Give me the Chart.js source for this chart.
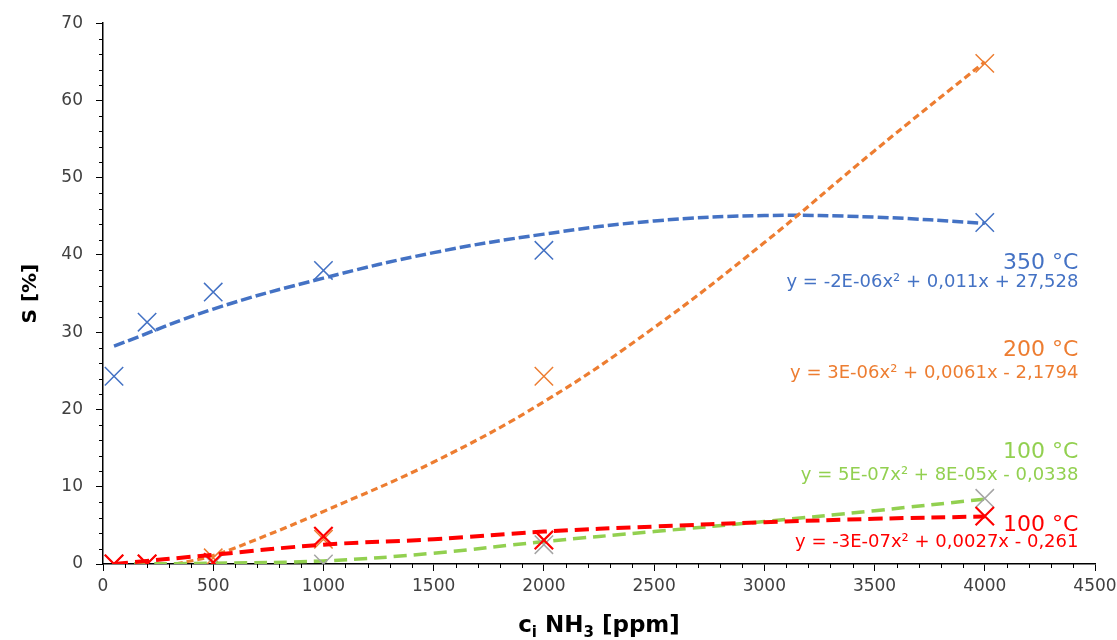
<!DOCTYPE html>
<html>
<head>
<meta charset="utf-8">
<script src="https://cdn.jsdelivr.net/npm/chart.js@4.4.1/dist/chart.umd.min.js"></script>
<style>
  html, body { margin: 0; padding: 0; background: #fff; }
  #wrap { width: 1117px; height: 640px; }
</style>
</head>
<body>
<div id="wrap"><canvas id="selChart"></canvas></div>
<script>
// measured points, NH3 inlet concentration [ppm] vs selectivity S [%]
const concentrations = [50, 200, 500, 1000, 2000, 4000];
const sel350 = [24.3, 31.3, 35.2, 38.0, 40.6, 44.2];
const sel200 = [0, 0, 0.8, 3.2, 24.3, 64.8];
const sel100green = [0, 0, 0, 0, 2.5, 8.5];
const sel100red = [0, 0, 0.2, 3.6, 3.1, 6.2];

// polynomial trendlines, sampled along x
const trendX = [50, 500, 1000, 1500, 2000, 2500, 3000, 3500, 4000];
const trend350 = [28.2, 33.0, 37.0, 40.3, 42.7, 44.4, 45.1, 44.9, 44.1];
const trendX200 = [330, 500, 750, 1000, 1500, 2000, 2500, 3000, 3500, 4000];
const trend200 = [0, 1.1, 3.8, 6.8, 13.2, 21.0, 30.6, 41.6, 53.5, 65.0];
const trend100green = [0, 0.1, 0.4, 1.4, 2.9, 4.2, 5.5, 6.9, 8.4];
const trend100red = [0, 1.2, 2.5, 3.2, 4.2, 4.85, 5.4, 5.85, 6.15];

// axis ticks
const xTicks = [0, 500, 1000, 1500, 2000, 2500, 3000, 3500, 4000, 4500];
const yTicks = [0, 10, 20, 30, 40, 50, 60, 70];

const BLUE = "#4472C4", ORANGE = "#ED7D31", GREEN = "#92D050", GRAY = "#A5A5A5", RED = "#FF0000";
const FONT = '"DejaVu Sans", "Liberation Sans", sans-serif';

// series names and trendline equations shown at the right edge
const seriesLabels = [
  { text: "350 °C", y: 38.9, size: 22, color: BLUE },
  { text: "y = -2E-06x² + 0,011x + 27,528", y: 36.4, size: 18, color: BLUE },
  { text: "200 °C", y: 27.7, size: 22, color: ORANGE },
  { text: "y = 3E-06x² + 0,0061x - 2,1794", y: 24.7, size: 18, color: ORANGE },
  { text: "100 °C", y: 14.4, size: 22, color: GREEN },
  { text: "y = 5E-07x² + 8E-05x - 0,0338", y: 11.5, size: 18, color: GREEN },
  { text: "100 °C", y: 5.0, size: 22, color: RED },
  { text: "y = -3E-07x² + 0,0027x - 0,261", y: 2.85, size: 18, color: RED }
];
const labelRightX = 4425;

const pairs = (xs, ys) => xs.map((x, i) => ({ x: x, y: ys[i] }));

function markers(values, color, width) {
  return {
    data: pairs(concentrations, values),
    showLine: false,
    pointStyle: "crossRot",
    pointRadius: 13,
    pointHoverRadius: 13,
    borderColor: color,
    backgroundColor: color,
    pointBorderWidth: width
  };
}

function trend(xs, values, color, width, dash) {
  return {
    data: pairs(xs, values),
    showLine: true,
    pointRadius: 0,
    borderColor: color,
    borderWidth: width,
    borderDash: dash,
    tension: 0.4,
    fill: false
  };
}

// minor tick marks, axis titles and the series labels
const decorations = {
  id: "decorations",
  afterDraw(chart) {
    const ctx = chart.ctx;
    const xs = chart.scales.x, ys = chart.scales.y;
    const area = chart.chartArea;
    ctx.save();
    ctx.strokeStyle = "#000";
    ctx.lineWidth = 1;
    for (let v = 0; v <= 70; v += 2) {
      if (v % 10 === 0) continue;
      const py = Math.round(ys.getPixelForValue(v)) + 0.5;
      ctx.beginPath();
      ctx.moveTo(area.left - 4, py);
      ctx.lineTo(area.left, py);
      ctx.stroke();
    }
    for (let v = 0; v <= 4500; v += 100) {
      if (v % 500 === 0) continue;
      const px = Math.round(xs.getPixelForValue(v)) + 0.5;
      ctx.beginPath();
      ctx.moveTo(px, area.bottom);
      ctx.lineTo(px, area.bottom + 4);
      ctx.stroke();
    }

    // series labels
    ctx.textAlign = "right";
    ctx.textBaseline = "middle";
    seriesLabels.forEach((l) => {
      ctx.font = l.size + "px " + FONT;
      ctx.fillStyle = l.color;
      ctx.fillText(l.text, xs.getPixelForValue(labelRightX), ys.getPixelForValue(l.y));
    });

    // y title
    ctx.fillStyle = "#000";
    ctx.font = "bold 20px " + FONT;
    ctx.textAlign = "center";
    ctx.translate(31, (area.top + area.bottom) / 2);
    ctx.rotate(-Math.PI / 2);
    ctx.fillText("S [%]", 0, 0);
    ctx.setTransform(1, 0, 0, 1, 0, 0);

    // x title with subscripts
    const parts = [
      { t: "c", sub: false }, { t: "i", sub: true }, { t: " NH", sub: false },
      { t: "3", sub: true }, { t: " [ppm]", sub: false }
    ];
    const big = "bold 23px " + FONT, small = "bold 15px " + FONT;
    let total = 0;
    parts.forEach((p) => { ctx.font = p.sub ? small : big; p.w = ctx.measureText(p.t).width; total += p.w; });
    let cx = (area.left + area.right) / 2 - total / 2;
    const base = 632;
    ctx.textAlign = "left";
    ctx.textBaseline = "alphabetic";
    parts.forEach((p) => {
      ctx.font = p.sub ? small : big;
      ctx.fillText(p.t, cx, p.sub ? base + 5 : base);
      cx += p.w;
    });
    ctx.restore();
  }
};

const plainNumber = (v) => String(v);

new Chart(document.getElementById("selChart"), {
  type: "scatter",
  data: {
    datasets: [
      markers(sel100red, RED, 2.2),
      trend(trendX, trend100red, RED, 4, [14, 7]),
      markers(sel100green, GRAY, 1.5),
      trend(trendX, trend100green, GREEN, 3.5, [13, 7]),
      markers(sel200, ORANGE, 1.5),
      trend(trendX200, trend200, ORANGE, 3.2, [7, 4]),
      markers(sel350, BLUE, 1.5),
      trend(trendX, trend350, BLUE, 3.5, [11, 4])
    ]
  },
  options: {
    responsive: true,
    maintainAspectRatio: false,
    animation: false,
    layout: { padding: { top: 23, right: 22, left: 0, bottom: 0 } },
    plugins: { legend: { display: false }, tooltip: { enabled: false } },
    scales: {
      x: {
        type: "linear",
        min: 0,
        max: 4500,
        afterBuildTicks: (s) => { s.ticks = xTicks.map((v) => ({ value: v })); },
        // the last tick label may run into the right margin
        afterFit: (s) => { s.height = 76; s.paddingRight = 0; s.paddingLeft = 0; },
        ticks: { color: "#404040", font: { family: FONT, size: 17 }, padding: 5, maxRotation: 0, callback: plainNumber },
        grid: { drawOnChartArea: false, tickLength: 7, color: "#000", tickWidth: 1 },
        border: { color: "#000", width: 1.5 }
      },
      y: {
        type: "linear",
        min: 0,
        max: 70,
        afterBuildTicks: (s) => { s.ticks = yTicks.map((v) => ({ value: v })); },
        afterFit: (s) => { s.width = 103; },
        ticks: { color: "#404040", font: { family: FONT, size: 17 }, padding: 13, callback: plainNumber },
        grid: { drawOnChartArea: false, tickLength: 7, color: "#000", tickWidth: 1 },
        border: { color: "#000", width: 1.5 }
      }
    }
  },
  plugins: [decorations]
});
</script>
</body>
</html>
